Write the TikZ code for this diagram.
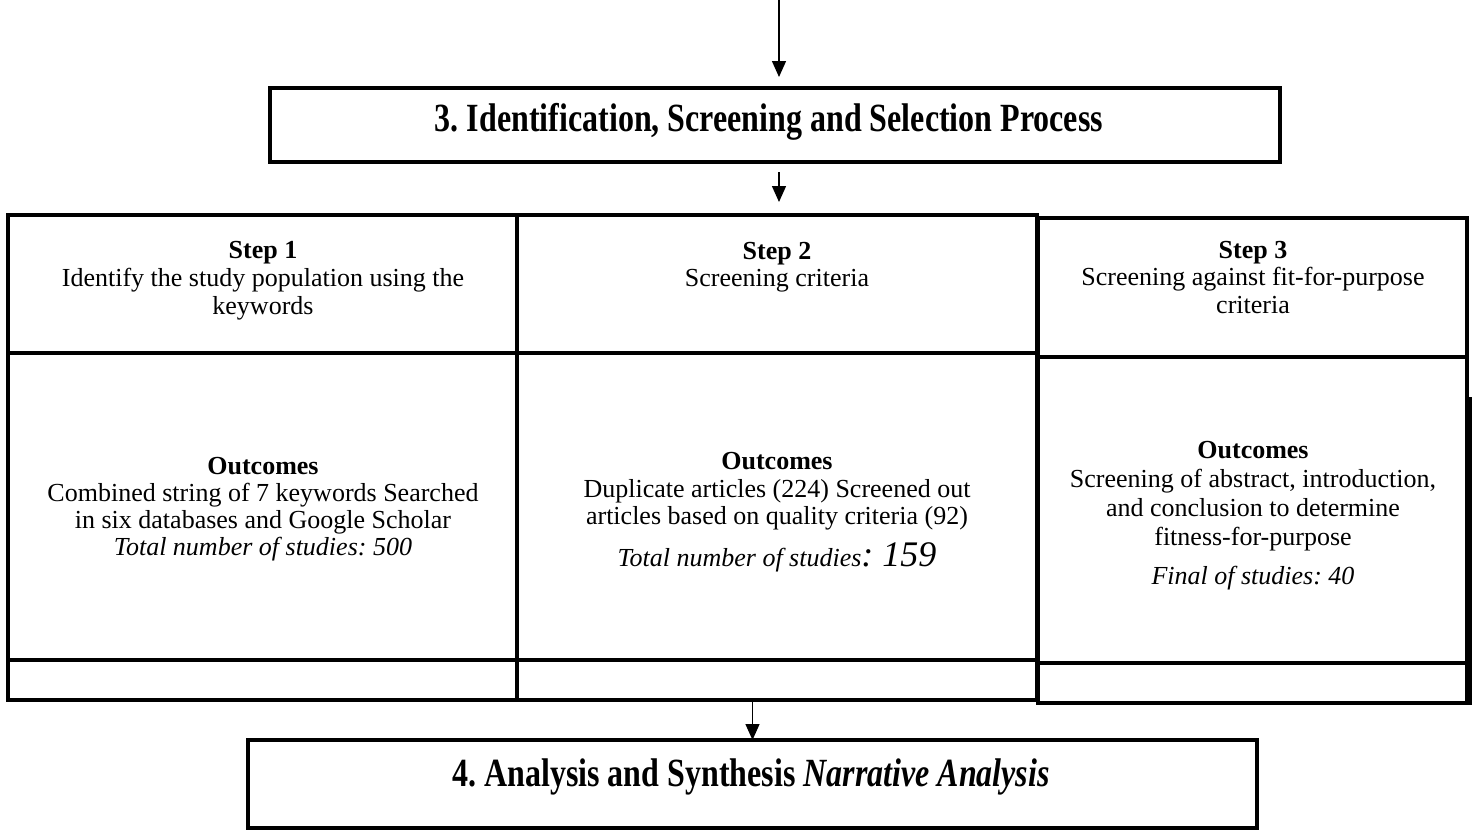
\documentclass[tikz,border=0pt]{standalone}
\usepackage{fontspec}
\usepackage{graphicx}
\setmainfont{Liberation Serif}
\usetikzlibrary{arrows.meta,fit}
\frenchspacing
\begin{document}
\begin{tikzpicture}[x=1pt,y=-1pt,
  cell/.style={draw, line width=3.3pt, inner sep=0pt, outer sep=0pt},
  tbox/.style={draw, line width=3.5pt, inner sep=0pt, outer sep=0pt},
  txt/.style={anchor=north, align=center, inner sep=0pt, outer sep=0pt},
  body/.style={font=\fontsize{26}{27}\selectfont},
  arr/.style={line width=1.4pt, -{Triangle[length=16pt,width=14pt]}}
]
\useasboundingbox (0,0) rectangle (1476,830);

% title boxes
\node[tbox, fit={(270,88) (1280,162)}] (b3) {};
\node[inner sep=0pt] (t3) at (769,122) {\scalebox{0.8}[1]{\fontsize{40}{44}\selectfont\bfseries 3. Identification, Screening and Selection Process}};
\node[tbox, fit={(248,740) (1257,828)}] (b4) {};
\node[inner sep=0pt] (t4) at (751,777) {\scalebox{0.8}[1]{\fontsize{40}{44}\selectfont\bfseries 4. Analysis and Synthesis \textit{Narrative Analysis}}};

% table cells
\node[cell, fit={(8,215) (517,353)}] (s1) {};
\node[cell, fit={(8,353) (517,660)}] (o1) {};
\node[cell, fit={(8,660) (517,700)}] (e1) {};
\node[cell, fit={(517,215) (1037,353)}] (s2) {};
\node[cell, fit={(517,353) (1037,660)}] (o2) {};
\node[cell, fit={(517,660) (1037,700)}] (e2) {};
\node[cell, fit={(1038,218) (1467,357)}] (s3) {};
\node[cell, fit={(1038,357) (1467,663)}] (o3) {};
\node[cell, fit={(1038,663) (1467,703)}] (e3) {};
\draw[line width=3.3pt] (1470,397) -- (1470,703) -- (1467,703);

% cell texts
\node[txt, body] (s1t) at (263,240) {\rule{0pt}{18pt}\textbf{Step 1}\\[1pt] Identify the study population using the\\[1pt] keywords};
\node[txt, body] (s2t) at (777,241) {\rule{0pt}{18pt}\textbf{Step 2}\\ Screening criteria};
\node[txt, body] (s3t) at (1253,240) {\rule{0pt}{18pt}\textbf{Step 3}\\ Screening against fit-for-purpose\\[1pt] criteria};

\node[txt, body] (o1t) at (263,456) {\rule{0pt}{18pt}\textbf{Outcomes}\\ Combined string of 7 keywords Searched\\ in six databases and Google Scholar\\ \textit{Total number of studies: 500}};
\node[txt, body] (o2t) at (777,451) {\rule{0pt}{18pt}\textbf{Outcomes}\\[1pt] Duplicate articles (224) Screened out\\ articles based on quality criteria (92)\\[12pt] \textit{Total number of studies{\fontsize{36}{38}\selectfont: 159}}};
\node[txt, font=\fontsize{26}{29}\selectfont] (o3t) at (1253,440) {\rule{0pt}{18pt}\textbf{Outcomes}\\ Screening of abstract, introduction,\\ and conclusion to determine\\ fitness-for-purpose\\[10pt] \textit{Final of studies: 40}};

% connectors
\coordinate (top) at (779,0);
\draw[arr, shorten >=11pt] (top) -- (top |- b3.north);
\draw[arr, shorten <=10pt, shorten >=13pt] (b3.south -| top) -- (s2.north -| top);
\draw[arr, shorten <=2pt] (e2.south -| b4.north) -- (b4.north);
\end{tikzpicture}
\end{document}
